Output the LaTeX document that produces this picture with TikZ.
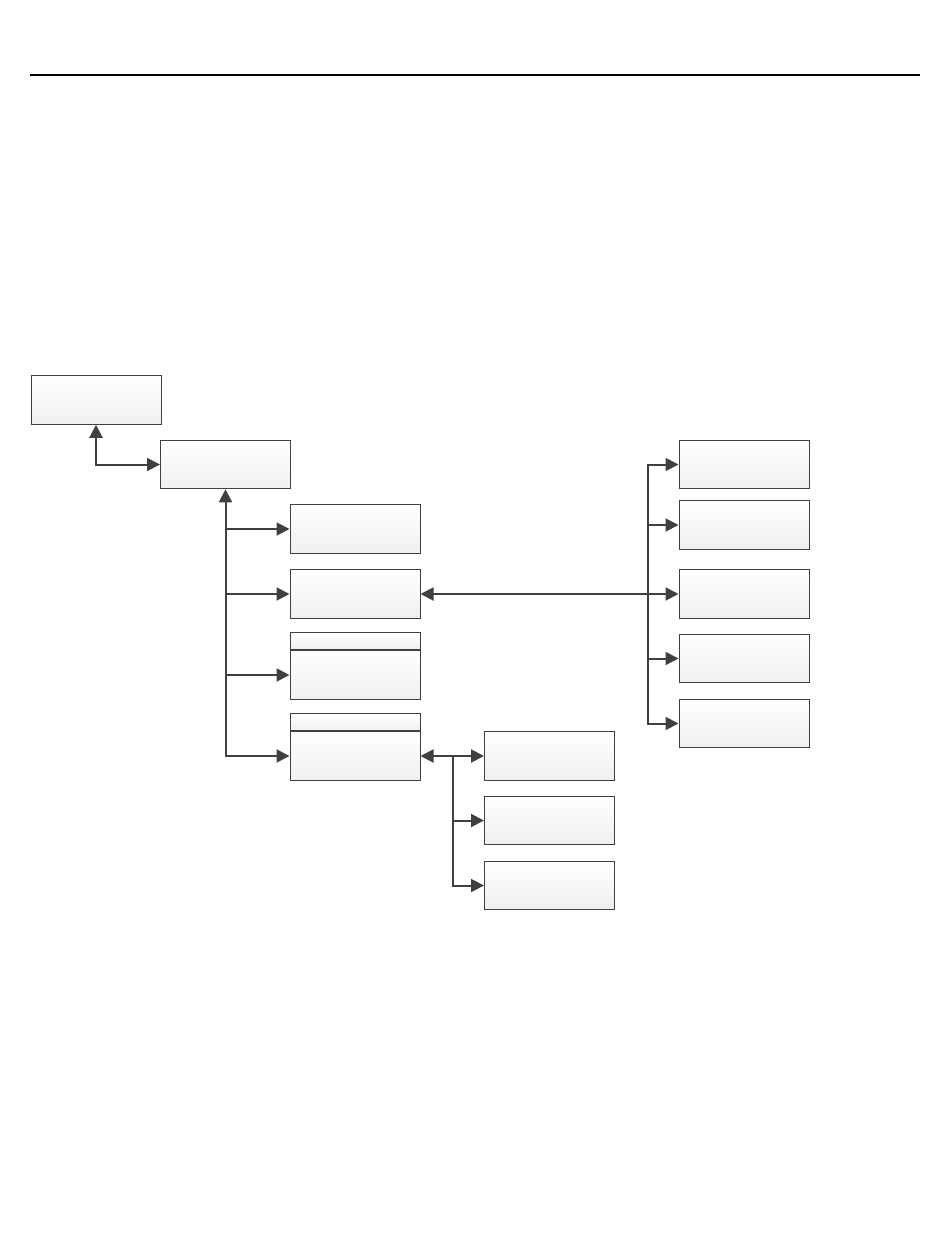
\documentclass[tikz,border=0pt]{standalone}
\usepackage{tikz}
\usetikzlibrary{positioning, arrows.meta}
\definecolor{linegray}{HTML}{404040}
\tikzset{%
    % boxes
    block/.style = {draw=linegray, line width=0.5pt, rectangle,
    minimum width=65pt, minimum height=24.25pt, inner sep=0pt,
    top color=white, bottom color=black!6},
    head/.style  = {block, minimum height=8.5pt, anchor=south},
    % connectors
    link/.style  = {draw=linegray, line width=1pt,
    >={Triangle[length=6.5pt,width=6.5pt]}}
}
\begin{document}
\begin{tikzpicture}[x=0.5pt,y=-0.5pt]
	\useasboundingbox (0,0) rectangle (950,1248);
	\draw[line width=1pt] (30,75) -- (920,75);

	\node[block] (top) at (96,400) {};
	\node[block] (main) at (225.5,464.5) {};
	\node[block] (c1) at (355,529) {};
	\node[block] (c2) at (355,594) {};
	\node[block] (c3) at (355,675) {};
	\node[head] (c3h) at (c3.north) {};
	\node[block] (c4) at (355,756) {};
	\node[head] (c4h) at (c4.north) {};

	\node[block] (r1) at (744,464.5) {};
	\node[block] (r2) at (744,525) {};
	\node[block] (r3) at (744,594) {};
	\node[block] (r4) at (744,658.5) {};
	\node[block] (r5) at (744,723.5) {};

	\node[block] (d1) at (549.5,756) {};
	\node[block] (d2) at (549.5,820.5) {};
	\node[block] (d3) at (549.5,885.5) {};

	\coordinate (rj) at (648,594);
	\coordinate (dj) at (453,756);

	\draw[link,<->] (top.south) |- (main.west);
	\draw[link,<->] (main.south) |- (c4.west);
	\foreach \n in {c1,c2,c3}
		\draw[link,->] (main.south |- \n.west) -- (\n.west);

	\draw[link,<->] (c2.east) -- (r3.west);
	\draw[link,->] (rj) |- (r1.west);
	\draw[link,->] (rj) |- (r5.west);
	\foreach \n in {r2,r4}
		\draw[link,->] (rj |- \n.west) -- (\n.west);

	\draw[link,<->] (c4.east) -- (d1.west);
	\draw[link,->] (dj) |- (d2.west);
	\draw[link,->] (dj) |- (d3.west);
\end{tikzpicture}
\end{document}
